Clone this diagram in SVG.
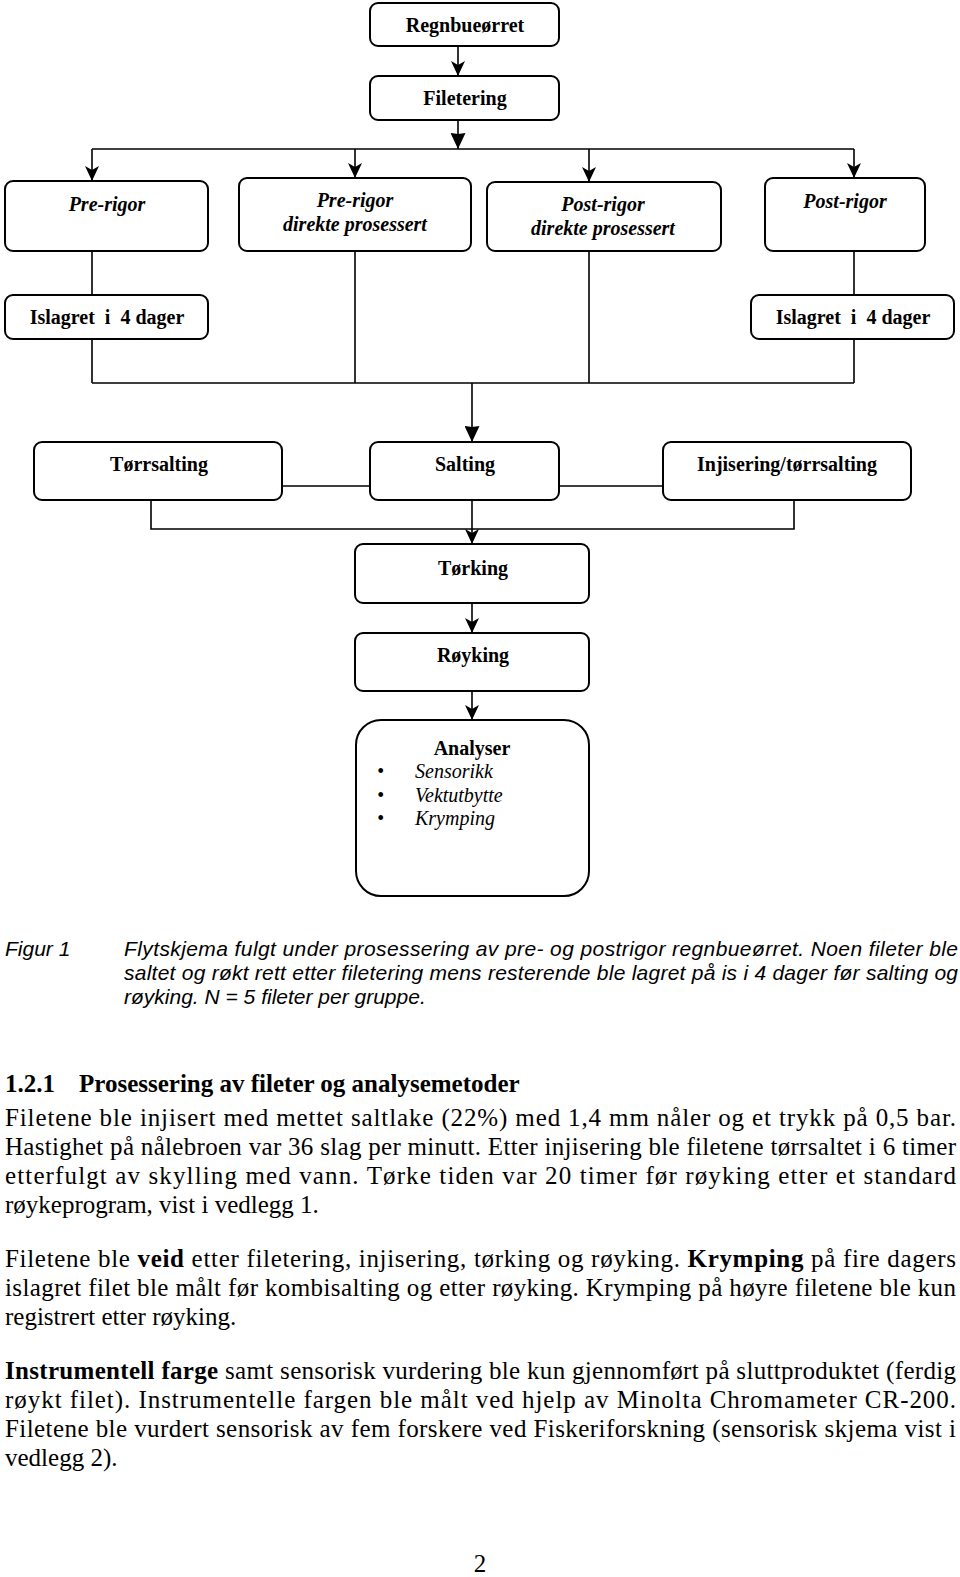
<svg xmlns="http://www.w3.org/2000/svg" width="960" height="1577" viewBox="0 0 960 1577">
<style>
.box{fill:#fff;stroke:#000;stroke-width:2}
.lbl{font-family:"Liberation Serif",serif;font-size:20px;font-weight:bold;text-anchor:middle;fill:#000}
.it{font-style:italic}
.item{font-family:"Liberation Serif",serif;font-size:20px;font-style:italic;fill:#000}
.con{fill:none;stroke:#000;stroke-width:1.6}
.cap{font-family:"Liberation Sans",Arial,sans-serif;font-size:21px;font-style:italic;fill:#000}
.body{font-family:"Liberation Serif",serif;font-size:25px;fill:#000}
.b{font-weight:bold}
</style>
<defs>
<marker id="ah" markerUnits="userSpaceOnUse" markerWidth="15" markerHeight="14" viewBox="0 0 15 14" refX="15" refY="7" orient="auto"><path d="M0,0 L15,7 L0,14 L4,7 z" fill="#000"/></marker>
<marker id="ahL" markerUnits="userSpaceOnUse" markerWidth="16" markerHeight="15" viewBox="0 0 16 15" refX="16" refY="7.5" orient="auto"><path d="M0,0 L16,7.5 L0,15 L1,7.5 z" fill="#000"/></marker>
</defs>

<g id="connectors">
<path class="con" d="M458,46 V76" marker-end="url(#ah)"/>
<path class="con" d="M458,120 V149" marker-end="url(#ahL)"/>
<path class="con" d="M92,149 H854"/>
<path class="con" d="M92,149 V181" marker-end="url(#ah)"/>
<path class="con" d="M355,149 V178" marker-end="url(#ah)"/>
<path class="con" d="M589,149 V182" marker-end="url(#ah)"/>
<path class="con" d="M854,149 V178" marker-end="url(#ah)"/>
<path class="con" d="M92,251 V295 M92,339 V383 M355,251 V383 M589,251 V383 M854,251 V295 M854,339 V383 M92,383 H854"/>
<path class="con" d="M472,383 V442" marker-end="url(#ahL)"/>
<path class="con" d="M282,486 H370 M559,486 H663"/>
<path class="con" d="M151,500 V529 H794 V500"/>
<path class="con" d="M472,500 V544" marker-end="url(#ah)"/>
<path class="con" d="M472,603 V633" marker-end="url(#ah)"/>
<path class="con" d="M472,691 V720" marker-end="url(#ah)"/>
</g>

<g id="n-regnbue"><rect class="box" x="370" y="3" width="189" height="43" rx="8"/><text class="lbl" x="465" y="32">Regnbueørret</text></g>
<g id="n-filetering"><rect class="box" x="370" y="76" width="189" height="44" rx="8"/><text class="lbl" x="465" y="105">Filetering</text></g>
<g id="n-prerigor"><rect class="box" x="5" y="181" width="203" height="70" rx="8"/><text class="lbl it" x="107" y="211">Pre-rigor</text></g>
<g id="n-prerigor-dir"><rect class="box" x="239" y="178" width="232" height="73" rx="8"/><text class="lbl it" x="355" y="207">Pre-rigor</text><text class="lbl it" x="355" y="231">direkte prosessert</text></g>
<g id="n-postrigor-dir"><rect class="box" x="487" y="182" width="234" height="69" rx="8"/><text class="lbl it" x="603" y="211">Post-rigor</text><text class="lbl it" x="603" y="235">direkte prosessert</text></g>
<g id="n-postrigor"><rect class="box" x="765" y="178" width="160" height="73" rx="8"/><text class="lbl it" x="845" y="208">Post-rigor</text></g>
<g id="n-islagret1"><rect class="box" x="5" y="295" width="203" height="44" rx="8"/><text class="lbl" x="107" y="324" xml:space="preserve">Islagret  i  4 dager</text></g>
<g id="n-islagret2"><rect class="box" x="751" y="295" width="203" height="44" rx="8"/><text class="lbl" x="853" y="324" xml:space="preserve">Islagret  i  4 dager</text></g>
<g id="n-torrsalting"><rect class="box" x="34" y="442" width="248" height="58" rx="8"/><text class="lbl" x="159" y="471">Tørrsalting</text></g>
<g id="n-salting"><rect class="box" x="370" y="442" width="189" height="58" rx="8"/><text class="lbl" x="465" y="471">Salting</text></g>
<g id="n-injisering"><rect class="box" x="663" y="442" width="248" height="58" rx="8"/><text class="lbl" x="787" y="471">Injisering/tørrsalting</text></g>
<g id="n-torking"><rect class="box" x="355" y="544" width="234" height="59" rx="8"/><text class="lbl" x="473" y="575">Tørking</text></g>
<g id="n-royking"><rect class="box" x="355" y="633" width="234" height="58" rx="8"/><text class="lbl" x="473" y="662">Røyking</text></g>
<g id="n-analyser"><rect class="box" x="356" y="720" width="233" height="176" rx="25"/><text class="lbl" x="472" y="755">Analyser</text>
<text class="item" x="377" y="778" font-style="normal">•</text><text class="item" x="415" y="778">Sensorikk</text>
<text class="item" x="377" y="802" font-style="normal">•</text><text class="item" x="415" y="802">Vektutbytte</text>
<text class="item" x="377" y="825" font-style="normal">•</text><text class="item" x="415" y="825">Krymping</text></g>

<g id="caption">
<text class="cap" x="5" y="956">Figur 1</text>
<text class="cap" x="124" y="956" textLength="834" lengthAdjust="spacing">Flytskjema fulgt under prosessering av pre- og postrigor regnbueørret. Noen fileter ble</text>
<text class="cap" x="124" y="980" textLength="834" lengthAdjust="spacing">saltet og røkt rett etter filetering mens resterende ble lagret på is i 4 dager før salting og</text>
<text class="cap" x="124" y="1004">røyking. N = 5 fileter per gruppe.</text>
</g>

<g id="text">
<text class="body b" x="5" y="1092">1.2.1</text>
<text class="body b" x="79" y="1092">Prosessering av fileter og analysemetoder</text>
<text class="body" x="5" y="1126" textLength="951" lengthAdjust="spacing">Filetene ble injisert med mettet saltlake (22%) med 1,4 mm nåler og et trykk på 0,5 bar.</text>
<text class="body" x="5" y="1155" textLength="951" lengthAdjust="spacing">Hastighet på nålebroen var 36 slag per minutt. Etter injisering ble filetene tørrsaltet i 6 timer</text>
<text class="body" x="5" y="1184" textLength="951" lengthAdjust="spacing">etterfulgt av skylling med vann. Tørke tiden var 20 timer før røyking etter et standard</text>
<text class="body" x="5" y="1213">røykeprogram, vist i vedlegg 1.</text>
<text class="body" x="5" y="1267" textLength="951" lengthAdjust="spacing">Filetene ble <tspan class="b">veid</tspan> etter filetering, injisering, tørking og røyking. <tspan class="b">Krymping</tspan> på fire dagers</text>
<text class="body" x="5" y="1296" textLength="951" lengthAdjust="spacing">islagret filet ble målt før kombisalting og etter røyking. Krymping på høyre filetene ble kun</text>
<text class="body" x="5" y="1325">registrert etter røyking.</text>
<text class="body" x="5" y="1379" textLength="951" lengthAdjust="spacing"><tspan class="b">Instrumentell farge</tspan> samt sensorisk vurdering ble kun gjennomført på sluttproduktet (ferdig</text>
<text class="body" x="5" y="1408" textLength="951" lengthAdjust="spacing">røykt filet). Instrumentelle fargen ble målt ved hjelp av Minolta Chromameter CR-200.</text>
<text class="body" x="5" y="1437" textLength="951" lengthAdjust="spacing">Filetene ble vurdert sensorisk av fem forskere ved Fiskeriforskning (sensorisk skjema vist i</text>
<text class="body" x="5" y="1466">vedlegg 2).</text>
<text class="body" x="480" y="1572" font-size="21" text-anchor="middle">2</text>
</g>
</svg>
